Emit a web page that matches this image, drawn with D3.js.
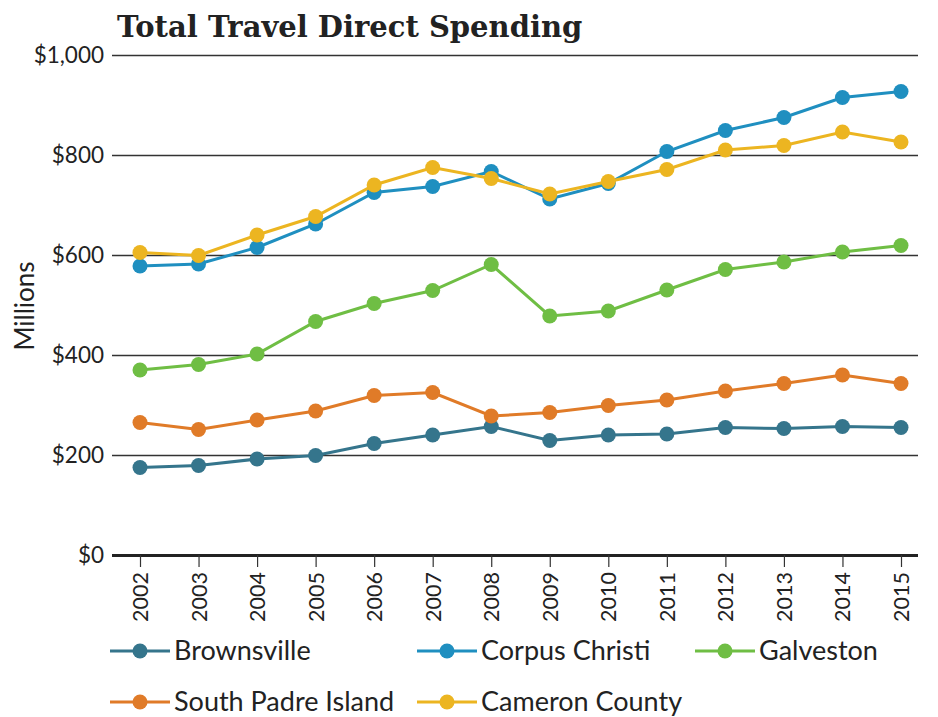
<html>
<head>
<style>
  body { margin: 0; background: #fff; }
  text { font-family: Lato, "Open Sans", sans-serif; fill: #222; }
</style>
</head>
<body>
<svg id="chart" width="938" height="717"></svg>
<script src="https://d3js.org/d3.v7.min.js"></script>
<script>
  // data, $ millions
  let years = [2002, 2003, 2004, 2005, 2006, 2007, 2008, 2009, 2010, 2011, 2012, 2013, 2014, 2015]
  let brownsville = [175, 179, 192, 199, 223, 240, 257, 229, 240, 242, 255, 253, 257, 255]
  let corpusChristi = [578, 582, 615, 662, 725, 737, 767, 712, 743, 807, 849, 875, 915, 927]
  let galveston = [370, 381, 402, 467, 503, 529, 581, 478, 488, 530, 571, 586, 606, 619]
  let southPadre = [265, 251, 270, 288, 319, 325, 278, 285, 299, 310, 328, 343, 360, 343]
  let cameronCounty = [605, 599, 640, 677, 740, 775, 753, 722, 747, 771, 810, 819, 846, 826]
  let yTicks = [0, 200, 400, 600, 800, 1000]

  let series = [
    { name: "Brownsville", values: brownsville, color: "#35758c" },
    { name: "Corpus Christi", values: corpusChristi, color: "#1f8fc0" },
    { name: "Galveston", values: galveston, color: "#6fbe44" },
    { name: "South Padre Island", values: southPadre, color: "#e07b28" },
    { name: "Cameron County", values: cameronCounty, color: "#ecb521" }
  ]

  let svg = d3.select("#chart")

  let x = d3.scalePoint().domain(years).range([140, 901])
  let y = d3.scaleLinear().domain([0, 1000]).range([555, 55])

  // title
  svg.append("text")
    .attr("x", 117).attr("y", 37)
    .style("font-family", "'DejaVu Serif', serif")
    .style("font-weight", "bold")
    .style("font-size", "29px")
    .style("fill", "#222")
    .text("Total Travel Direct Spending")

  // gridlines + y labels
  let yAxis = d3.axisLeft(y)
    .tickValues(yTicks)
    .tickSize(-806)
    .tickPadding(8)
    .tickFormat(d => "$" + d3.format(",")(d))
  let yg = svg.append("g")
    .attr("transform", "translate(112,0)")
    .call(yAxis)
  yg.select(".domain").remove()
  yg.selectAll(".tick line").attr("stroke", "#333").attr("stroke-width", 1.5)
  yg.selectAll(".tick text").style("font-size", "22.5px").style("font-family", "Lato")
  yg.selectAll(".tick").filter(d => d === 0).select("line").attr("stroke-width", 3).attr("stroke", "#222")

  // x axis
  let xAxis = d3.axisBottom(x).tickSize(12).tickPadding(6)
  let xg = svg.append("g")
    .attr("transform", "translate(0,555)")
    .call(xAxis)
  xg.select(".domain").remove()
  xg.selectAll(".tick line").attr("stroke", "#333").attr("stroke-width", 1.2)
  xg.selectAll(".tick text")
    .style("font-size", "21.5px")
    .attr("transform", "rotate(-90)")
    .attr("x", -17).attr("y", 0).attr("dy", "0.35em")
    .attr("text-anchor", "end")

  // y title
  svg.append("text")
    .attr("transform", "translate(25,306) rotate(-90)")
    .attr("text-anchor", "middle")
    .attr("dy", "0.35em")
    .style("font-size", "26px")
    .text("Millions")

  let line = d3.line()
    .x((d, i) => x(years[i]))
    .y(d => y(d))

  series.forEach(s => {
    let g = svg.append("g")
    g.append("path")
      .attr("d", line(s.values))
      .attr("fill", "none")
      .attr("stroke", s.color)
      .attr("stroke-width", 3)
    g.selectAll("circle")
      .data(s.values)
      .join("circle")
      .attr("cx", (d, i) => x(years[i]))
      .attr("cy", d => y(d))
      .attr("r", 7.5)
      .attr("fill", s.color)
  })

  // legend
  let legendPos = [[110, 651], [417, 651], [695, 651], [110, 702], [417, 702]]
  series.forEach((s, i) => {
    let [lx, ly] = legendPos[i]
    let g = svg.append("g").attr("transform", `translate(${lx},${ly})`)
    g.append("line").attr("x1", 0).attr("x2", 60).attr("y1", 0).attr("y2", 0)
      .attr("stroke", s.color).attr("stroke-width", 3)
    g.append("circle").attr("cx", 30).attr("cy", 0).attr("r", 7.5).attr("fill", s.color)
    g.append("text").attr("x", 64).attr("y", 0).attr("dy", "0.35em")
      .style("font-size", "27px")
      .text(s.name)
  })
</script>
</body>
</html>
